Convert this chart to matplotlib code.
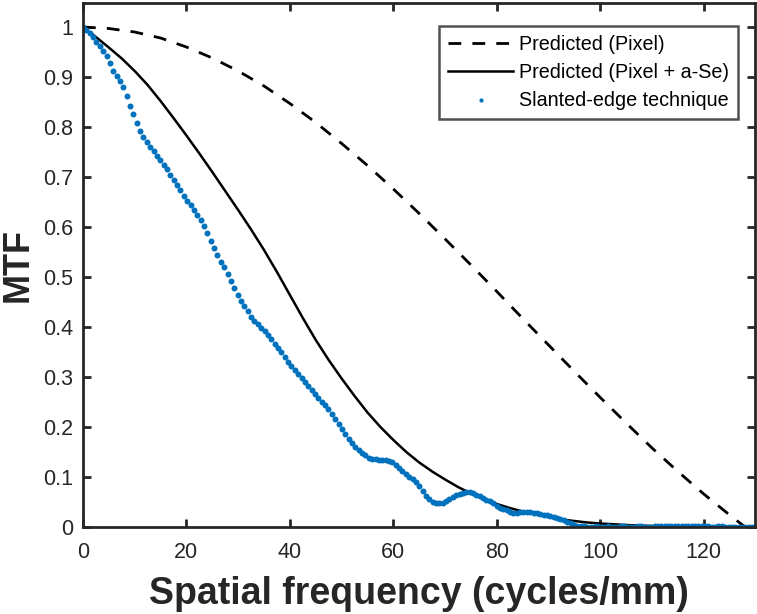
import numpy as np
import matplotlib
matplotlib.use("Agg")
import matplotlib.pyplot as plt

plt.rcParams['font.family'] = ['Liberation Sans', 'DejaVu Sans']

# Predicted (Pixel) – dashed
pix_x = [0, 5, 10, 15, 20, 25, 30, 35, 40, 45, 50, 55, 60, 65, 70, 75, 80, 85,
         90, 95, 100, 105, 110, 115, 120, 125, 128]
pix_y = [1.000, 0.997, 0.990, 0.978, 0.960, 0.938, 0.912, 0.882, 0.847, 0.809,
         0.767, 0.723, 0.676, 0.627, 0.576, 0.524, 0.471, 0.417, 0.364, 0.311,
         0.259, 0.208, 0.158, 0.111, 0.066, 0.024, 0.000]

# Predicted (Pixel + a-Se) – solid
ase_x = [0, 2.5, 5, 7.5, 10, 12.5, 15, 17.5, 20, 22.5, 25, 27.5, 30, 32.5, 35,
         37.5, 40, 42.5, 45, 47.5, 50, 52.5, 55, 57.5, 60, 62.5, 65, 67.5, 70,
         72.5, 75, 77.5, 80, 82.5, 85, 87.5, 90, 92.5, 95, 97.5, 100, 105, 110,
         115, 120, 130]
ase_y = [1.000, 0.980, 0.959, 0.937, 0.912, 0.884, 0.852, 0.818, 0.783, 0.747,
         0.710, 0.672, 0.634, 0.595, 0.554, 0.510, 0.464, 0.418, 0.374, 0.334,
         0.297, 0.262, 0.229, 0.200, 0.174, 0.150, 0.129, 0.111, 0.095, 0.080,
         0.067, 0.056, 0.046, 0.038, 0.031, 0.025, 0.020, 0.015, 0.012, 0.009,
         0.007, 0.004, 0.002, 0.001, 0.0005, 0.000]

# Slanted-edge technique – measured points (frequency step 0.65 cycles/mm)
se_step = 0.65
se_y = [
    1.000, 0.994, 0.988, 0.980, 0.971, 0.962, 0.952, 0.942, 0.929, 0.912,
    0.903, 0.893, 0.880, 0.862, 0.842, 0.826, 0.808, 0.793, 0.781, 0.771,
    0.761, 0.752, 0.743, 0.734, 0.725, 0.716, 0.705, 0.694, 0.684, 0.675,
    0.663, 0.652, 0.644, 0.634, 0.624, 0.614, 0.602, 0.588, 0.572, 0.559,
    0.545, 0.530, 0.520, 0.506, 0.492, 0.478, 0.465, 0.453, 0.443, 0.432,
    0.421, 0.412, 0.406, 0.399, 0.392, 0.384, 0.376, 0.367, 0.358, 0.350,
    0.340, 0.330, 0.321, 0.313, 0.305, 0.298, 0.290, 0.281, 0.274, 0.266,
    0.258, 0.250, 0.243, 0.235, 0.226, 0.216, 0.206, 0.196, 0.186, 0.176,
    0.168, 0.159, 0.153, 0.148, 0.143, 0.138, 0.136, 0.135, 0.134, 0.134,
    0.133, 0.132, 0.129, 0.124, 0.118, 0.112, 0.106, 0.100, 0.095, 0.090,
    0.081, 0.071, 0.062, 0.056, 0.050, 0.048, 0.047, 0.048, 0.052, 0.055,
    0.059, 0.063, 0.066, 0.068, 0.070, 0.070, 0.067, 0.064, 0.061, 0.058,
    0.054, 0.051, 0.047, 0.042, 0.038, 0.035, 0.033, 0.030, 0.027, 0.028,
    0.029, 0.029, 0.030, 0.030, 0.028, 0.027, 0.026, 0.024, 0.023, 0.021,
    0.019, 0.017, 0.015, 0.013, 0.010, 0.007, 0.004, 0.002, 0.001, 0.001,
    0.000, 0.000, 0.000, 0.001, 0.000, 0.000, 0.001, 0.000, 0.000, 0.000,
    0.001, 0.001, 0.000, 0.000, 0.000, 0.001, 0.001, 0.000, 0.000, 0.000,
    0.001, 0.001, 0.001, 0.002, 0.001, 0.001, 0.001, 0.002, 0.002, 0.001,
    0.001, 0.002, 0.002, 0.002, 0.001, 0.001, 0.001, 0.000, 0.000, 0.001,
    0.001, 0.000, 0.000, 0.000, 0.000, 0.000, 0.000, 0.000, 0.000, 0.000,
    0.000,
]
se_x = np.arange(len(se_y)) * se_step

x_ticks = [0, 20, 40, 60, 80, 100, 120]
y_ticks = [0, 0.1, 0.2, 0.3, 0.4, 0.5, 0.6, 0.7, 0.8, 0.9, 1]
y_tick_labels = ['0', '0.1', '0.2', '0.3', '0.4', '0.5', '0.6', '0.7', '0.8', '0.9', '1']

dark = '#262626'
blue = '#0072BD'

fig = plt.figure(figsize=(7.57, 6.14), dpi=100)
ax = fig.add_axes([0.1096, 0.1417, 0.8884, 0.8534])

ln1, = ax.plot(pix_x, pix_y, color='black', lw=2.0, label='Predicted (Pixel)')
ln1.set_dashes([4.6, 4.0])
ax.plot(ase_x, ase_y, color='black', lw=1.8, label='Predicted (Pixel + a-Se)')
ax.plot(se_x, se_y, linestyle='none', marker='o', markersize=4.3,
        color=blue, markeredgewidth=0, label='Slanted-edge technique')

ax.set_xlim(0, 130)
ax.set_ylim(0, 1.048)
ax.set_xticks(x_ticks)
ax.set_xticklabels([str(t) for t in x_ticks])
ax.set_yticks(y_ticks)
ax.set_yticklabels(y_tick_labels)

for s in ax.spines.values():
    s.set_linewidth(2.0)
    s.set_color(dark)

ax.tick_params(axis='both', which='both', direction='in', length=6, width=2.0,
               color=dark, labelcolor=dark, labelsize=15.5, top=True, right=True)
ax.tick_params(axis='x', pad=11)
ax.tick_params(axis='y', pad=7)

ax.set_xlabel('Spatial frequency (cycles/mm)', fontsize=27, fontweight='bold',
              color=dark, labelpad=9)
ax.set_ylabel('MTF', fontsize=26, fontweight='bold', color=dark)
ax.yaxis.set_label_coords(-0.070, 0.5)

leg = ax.legend(loc='upper right', bbox_to_anchor=(0.974, 0.956), fontsize=14.2,
                frameon=True, fancybox=False, edgecolor=dark, handlelength=3.3,
                handletextpad=0.3, borderpad=0.45, labelspacing=0.47,
                markerscale=0.7, borderaxespad=0.0)
leg.get_frame().set_linewidth(1.8)
for t in leg.get_texts():
    t.set_color('black')

fig.savefig('out.png', dpi=100)
